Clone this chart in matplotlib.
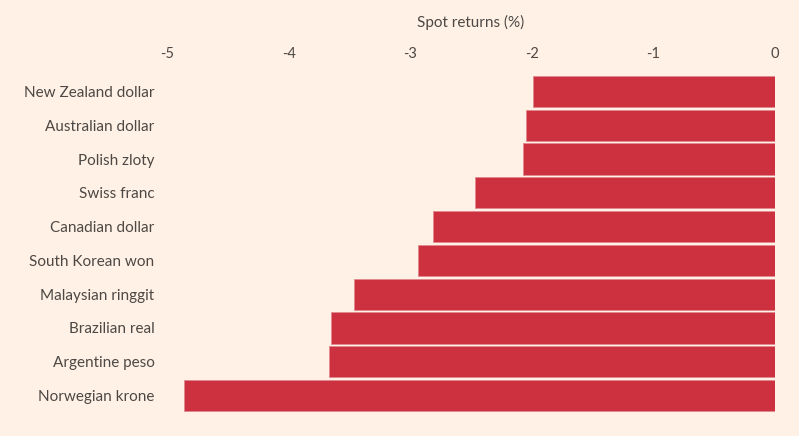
import matplotlib
matplotlib.use("Agg")
import matplotlib.pyplot as plt

currencies = ["New Zealand dollar", "Australian dollar", "Polish zloty", "Swiss franc",
              "Canadian dollar", "South Korean won", "Malaysian ringgit", "Brazilian real",
              "Argentine peso", "Norwegian krone"]
returns = [-1.99, -2.05, -2.07, -2.47, -2.81, -2.94, -3.46, -3.65, -3.67, -4.86]
xticks = [-5, -4, -3, -2, -1, 0]
xlabel = "Spot returns (%)"

bg = "#FFF1E5"
bar_color = "#CD3140"
text_color = "#4d4845"

plt.rcParams['font.family'] = ['Lato', 'DejaVu Sans']

fig = plt.figure(figsize=(7.99, 4.36), dpi=100, facecolor=bg)
ax = fig.add_axes([0.209, 0.054, 0.761, 0.775], facecolor=bg)

y = list(range(len(currencies)))
ax.barh(y, returns, height=0.92, color=bar_color, edgecolor="#e08a90", linewidth=0.6)
ax.set_ylim(len(currencies) - 0.5, -0.5)
ax.set_xlim(-5, 0)
ax.set_yticks(y)
ax.set_yticklabels(currencies, fontsize=11, color=text_color)
ax.set_xticks(xticks)
ax.set_xticklabels([str(t) for t in xticks], fontsize=10.5, color=text_color)
ax.xaxis.tick_top()
ax.xaxis.set_label_position("top")
ax.set_xlabel(xlabel, fontsize=11, color=text_color, labelpad=14)
ax.tick_params(axis="both", length=0)
ax.tick_params(axis="x", pad=10)
ax.tick_params(axis="y", pad=9)
for s in ax.spines.values():
    s.set_visible(False)

fig.savefig("out.png", dpi=100, facecolor=bg)
